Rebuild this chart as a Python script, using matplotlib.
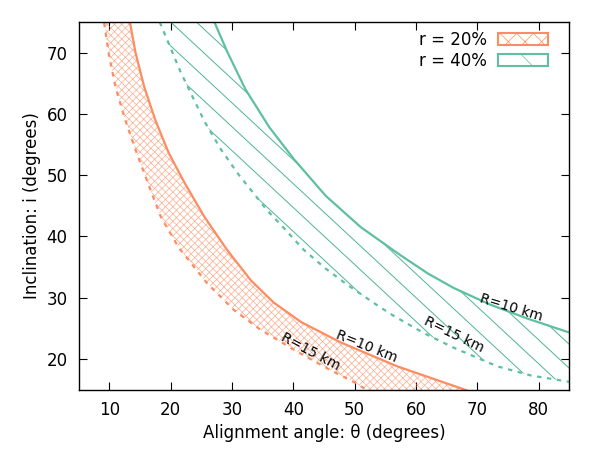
import numpy as np
import matplotlib.pyplot as plt
from matplotlib.patches import Polygon, Patch

# r = 20 %, R = 10 km (solid) and R = 15 km (dashed): alignment angle vs inclination
r20_R10_theta = [13.1, 13.3, 14.3, 15.7, 17.5, 19.7, 22.3, 25.5, 29.2, 33.1, 36.8, 41.3, 47.7, 56.9, 67.3, 69.0]
r20_R10_incl = [76.5, 75.3, 69.9, 64.4, 59.0, 53.6, 48.7, 43.2, 37.8, 32.8, 29.2, 26.0, 22.7, 18.8, 15.2, 14.6]
r20_R15_theta = [9.0, 9.1, 9.9, 11.0, 12.6, 14.4, 16.3, 18.4, 21.3, 25.9, 30.3, 34.6, 40.6, 46.0, 50.1, 52.5]
r20_R15_incl = [76.5, 75.3, 69.9, 64.4, 59.0, 53.8, 48.7, 43.2, 38.2, 32.4, 28.0, 24.8, 21.2, 18.2, 16.1, 14.6]

# r = 40 %
r40_R10_theta = [26.8, 27.0, 29.2, 32.2, 36.1, 40.1, 45.3, 51.0, 57.5, 62.0, 66.1, 72.0, 78.1, 84.7, 86.0]
r40_R10_incl = [76.5, 75.3, 70.2, 64.0, 57.8, 52.6, 46.6, 41.5, 36.9, 33.9, 31.6, 28.9, 26.6, 24.4, 24.1]
r40_R15_theta = [17.6, 18.3, 21.6, 25.5, 28.2, 31.0, 35.7, 38.7, 41.7, 45.2, 48.8, 53.9, 56.4,
                 61.3, 66.2, 73.2, 78.7, 84.7, 86.0]
r40_R15_incl = [76.5, 74.8, 66.9, 58.8, 54.2, 50.2, 44.3, 41.1, 37.8, 34.8, 32.1, 28.6, 27.0,
                24.2, 21.8, 18.8, 17.3, 16.3, 16.1]

orange = '#fc8d62'
green = '#5fc0a0'
hatch_green = '#4db594'

plt.rcParams['hatch.linewidth'] = 0.5
fig = plt.figure(figsize=(6, 4.5), dpi=100)
ax = fig.add_axes([0.131, 0.1344, 0.818, 0.8167])


def hatch_band(poly, slopes, intercepts, color, lw, alpha=1.0):
    # straight hatch lines, clipped to the band polygon
    ax.add_patch(poly)
    tt = np.array([0.0, 100.0])
    for s in slopes:
        for c in intercepts:
            ln, = ax.plot(tt, c + s * tt, color=color, lw=lw, alpha=alpha)
            ln.set_clip_path(poly)


# r = 20 % band, fine cross hatch
band20 = np.column_stack([r20_R15_theta + r20_R10_theta[::-1],
                          r20_R15_incl + r20_R10_incl[::-1]])
poly20 = Polygon(band20, closed=True, facecolor='none', edgecolor='none')
hatch_band(poly20, [1.0], np.arange(-60, 80, 1.19), orange, 0.45, 0.8)
hatch_band(poly20, [-1.0], np.arange(20, 160, 1.19), orange, 0.45, 0.8)

# r = 40 % band, sparse diagonal lines
band40 = np.column_stack([r40_R15_theta + r40_R10_theta[::-1],
                          r40_R15_incl + r40_R10_incl[::-1]])
poly40 = Polygon(band40, closed=True, facecolor='none', edgecolor='none')
hatch_band(poly40, [-0.93], np.arange(93.6 - 3.9 * 12, 93.6 + 3.9 * 12, 3.9), hatch_green, 0.7)

ax.plot(r20_R10_theta, r20_R10_incl, color=orange, lw=1.6)
ax.plot(r20_R15_theta, r20_R15_incl, color=orange, lw=1.6, ls=(0, (2, 2.5)))
ax.plot(r40_R10_theta, r40_R10_incl, color=green, lw=1.6)
ax.plot(r40_R15_theta, r40_R15_incl, color=green, lw=1.6, ls=(0, (2, 2.5)))

ax.text(75.5, 28.3, 'R=10 km', rotation=-17, ha='center', va='center', fontsize=10)
ax.text(66.2, 23.9, 'R=15 km', rotation=-26, ha='center', va='center', fontsize=10)
ax.text(51.9, 22.1, 'R=10 km', rotation=-22, ha='center', va='center', fontsize=10)
ax.text(42.8, 21.1, 'R=15 km', rotation=-28, ha='center', va='center', fontsize=10)

ax.set_xlim(5, 85)
ax.set_ylim(15, 75)
ax.set_xticks(range(10, 90, 10))
ax.set_yticks(range(20, 80, 10))
ax.tick_params(direction='in', top=True, right=True, length=6, labelsize=12, pad=8)
for s in ax.spines.values():
    s.set_linewidth(1.0)
ax.set_xlabel('Alignment angle: θ (degrees)', fontsize=12)
ax.set_ylabel('Inclination: i (degrees)', fontsize=12)

handles = [Patch(facecolor='none', edgecolor=orange, hatch='xx', lw=1.5, label='r = 20%'),
           Patch(facecolor='none', edgecolor=green, hatch='\\', lw=1.5, label='r = 40%')]
ax.legend(handles=handles, loc='upper right', bbox_to_anchor=(0.957, 0.975),
          frameon=False, markerfirst=False, fontsize=12, handlelength=3.0,
          handleheight=0.72, labelspacing=0.15, borderaxespad=0, borderpad=0,
          handletextpad=0.7)

fig.savefig('out.png', dpi=100)
